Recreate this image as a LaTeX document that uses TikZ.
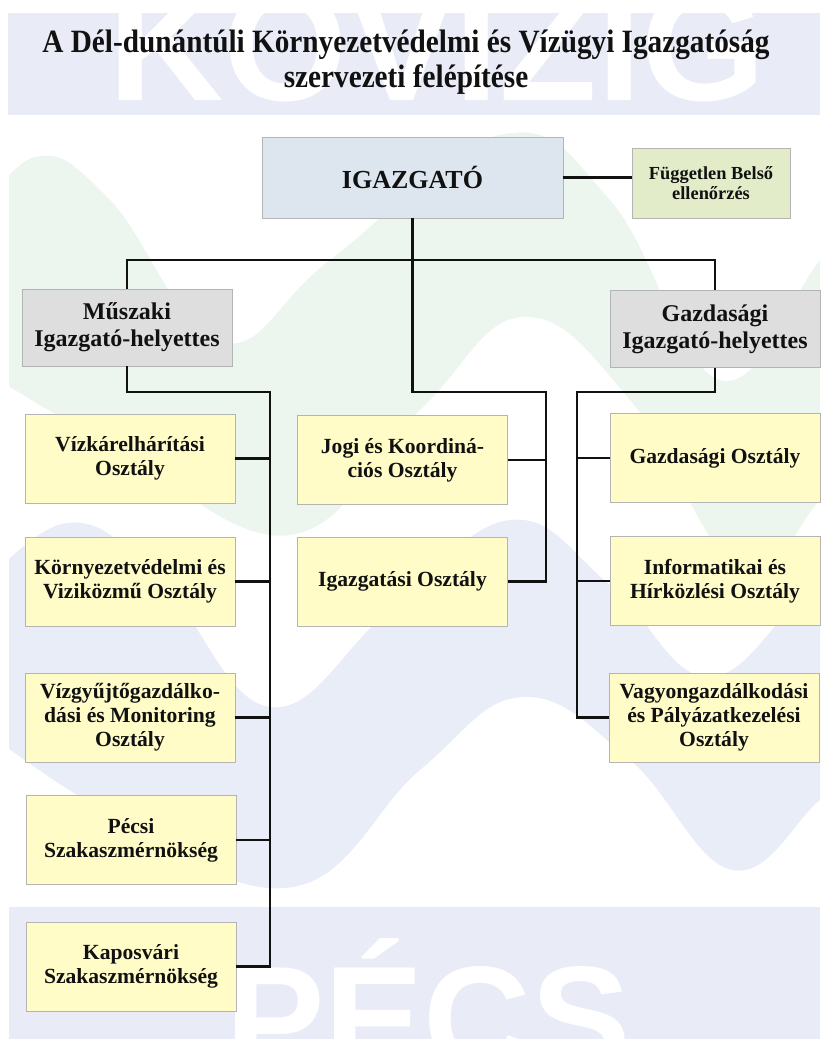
\documentclass[tikz,border=0pt]{standalone}
\usepackage{fontspec}
\setmainfont{Liberation Serif}
\newfontfamily\titlefont[FakeStretch=0.9]{Liberation Serif}
\newfontfamily\wmfont{Liberation Sans}
\usetikzlibrary{positioning,calc}
\definecolor{ink}{HTML}{111111}
\definecolor{edge}{HTML}{B4B4B4}
\definecolor{band}{HTML}{E9ECF7}
\definecolor{wgreen}{HTML}{EDF5EF}
\definecolor{wblue}{HTML}{E9EDF7}
\definecolor{headfill}{HTML}{DDE6EF}
\definecolor{auditfill}{HTML}{E3ECC9}
\definecolor{deputyfill}{HTML}{DEDEDE}
\definecolor{deptfill}{HTML}{FFFCC8}
\tikzset{
  orgbox/.style={draw=edge, line width=0.5pt, fill=#1, align=center, inner sep=2pt, text=ink},
  headbox/.style={orgbox=headfill, minimum width=301pt, minimum height=81pt, font={\bfseries\fontsize{26}{28}\selectfont}},
  auditbox/.style={orgbox=auditfill, minimum width=158pt, minimum height=70pt, font={\bfseries\fontsize{18.4}{20}\selectfont}},
  deputybox/.style={orgbox=deputyfill, minimum width=210pt, minimum height=77pt, font={\bfseries\fontsize{24}{27}\selectfont}},
  deptbox/.style={orgbox=deptfill, minimum width=210pt, minimum height=89pt, font={\bfseries\fontsize{21.6}{24}\selectfont}},
  link/.style={draw=ink, line width=2.4pt},
  titletext/.style={font={\titlefont\bfseries\fontsize{32.5}{35}\selectfont}, align=center, text=ink},
  wmtext/.style={font={\wmfont\bfseries\fontsize{#1}{#1}\selectfont}, text=white, inner sep=0pt}
}

\begin{document}
\begin{tikzpicture}[x=1pt,y=-1pt]
\useasboundingbox (0,0) rectangle (820,1039);

% Watermark
\begin{scope}
\clip (9,115) rectangle (820,907);
\fill[wgreen] plot[smooth,tension=0.7] coordinates {(-30,230) (35,157) (110,200) (220,342) (330,260) (500,135) (610,200) (720,380) (820,260) (870,200)}
  -- plot[smooth,tension=0.7] coordinates {(870,440) (820,500) (740,570) (630,400) (523,317) (420,410) (290,535) (120,450) (10,387) (-30,360)} -- cycle;
\fill[wblue] plot[smooth,tension=0.7] coordinates {(-30,600) (67,523) (160,580) (270,707) (390,610) (510,520) (610,585) (706,677) (800,600) (870,540)}
  -- plot[smooth,tension=0.7] coordinates {(870,760) (820,800) (732,870) (630,760) (523,697) (420,770) (293,887) (120,820) (-30,720)} -- cycle;
\end{scope}
\fill[band] (8,13) rectangle (820,115);
\begin{scope}
\clip (8,13) rectangle (820,115);
\node[wmtext=160, anchor=base west] (kovizig) at (108,100) {KÖVIZIG};
\end{scope}
\fill[band] (9,907) rectangle (820,1039);
\begin{scope}
\clip (9,907) rectangle (820,1039);
\node[wmtext=149, anchor=base west] (pecs) at (225,1070) {PÉCS};
\end{scope}

% Title
\node[titletext] (title) at (406,62) {A Dél-dunántúli Környezetvédelmi és Vízügyi Igazgatóság\\szervezeti felépítése};

% Leadership
\node[headbox] (igazgato) at (412.5,177.5) {IGAZGATÓ};
\node[auditbox] (fuggetlen) at (711,183) {Független Belső\\ellenőrzés};
\node[deputybox] (muszaki) at (127,327.5) {Műszaki\\Igazgató-helyettes};
\node[deputybox] (gazdih) at (715,329) {Gazdasági\\Igazgató-helyettes};

% Left column
\node[deptbox] (vizkar) at (130,458.5) {Vízkárelhárítási\\Osztály};
\node[deptbox] (kornyezet) at (130,581.5) {Környezetvédelmi és\\Viziközmű Osztály};
\node[deptbox] (vizgyujto) at (130,717.5) {Vízgyűjtőgazdálko-\\dási és Monitoring\\Osztály};
\node[deptbox] (pecsi) at (131,840) {Pécsi\\Szakaszmérnökség};
\node[deptbox] (kaposvar) at (131,966.5) {Kaposvári\\Szakaszmérnökség};

% Middle column
\node[deptbox] (jogi) at (402.5,460) {Jogi és Koordiná-\\ciós Osztály};
\node[deptbox] (igazgatasi) at (402.5,581.5) {Igazgatási Osztály};

% Right column
\node[deptbox] (gazdosztaly) at (715,458) {Gazdasági Osztály};
\node[deptbox] (informatika) at (715,581) {Informatikai és\\Hírközlési Osztály};
\node[deptbox] (vagyon) at (714,717.5) {Vagyongazdálkodási\\és Pályázatkezelési\\Osztály};

% Buses
\coordinate (topbus) at (412,260);
\coordinate (leftbus) at (270,392);
\coordinate (midbus) at (546,392);
\coordinate (rightbus) at (577,392);

\draw[link] (igazgato.east) -- (igazgato.east -| fuggetlen.west);
\draw[link] (muszaki.north) |- (topbus) -| (gazdih.north);
\draw[link] (igazgato.south) -- (igazgato.south |- midbus) -- (midbus) -- (midbus |- igazgatasi.east) -- (igazgatasi.east);
\draw[link] (jogi.east) -- (jogi.east -| midbus);

\draw[link] (muszaki.south) |- (leftbus) -- (leftbus |- kaposvar.east) -- (kaposvar.east);
\draw[link] (vizkar.east) -- (vizkar.east -| leftbus);
\draw[link] (kornyezet.east) -- (kornyezet.east -| leftbus);
\draw[link] (vizgyujto.east) -- (vizgyujto.east -| leftbus);
\draw[link] (pecsi.east) -- (pecsi.east -| leftbus);

\draw[link] (gazdih.south) |- (rightbus) -- (rightbus |- vagyon.west) -- (vagyon.west);
\draw[link] (gazdosztaly.west) -- (gazdosztaly.west -| rightbus);
\draw[link] (informatika.west) -- (informatika.west -| rightbus);

\end{tikzpicture}
\end{document}
